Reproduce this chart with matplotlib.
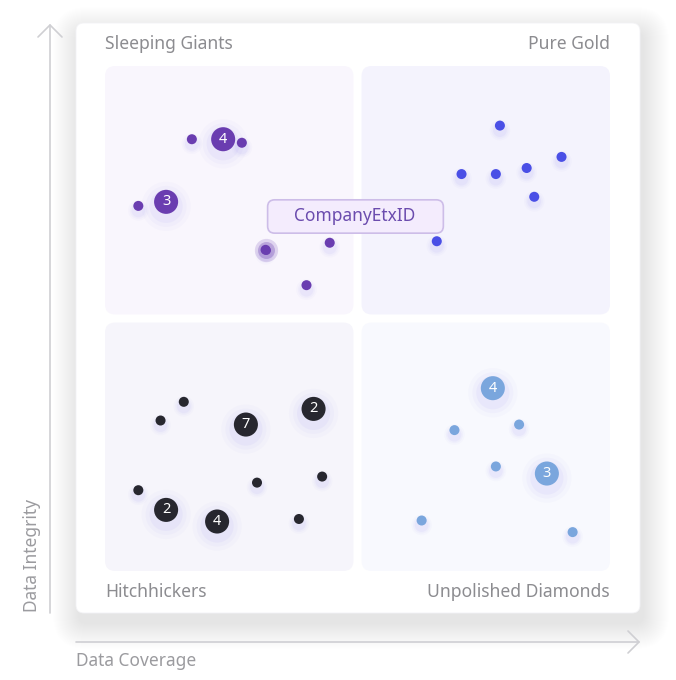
import numpy as np
import matplotlib
matplotlib.use("Agg")
import matplotlib.pyplot as plt
from matplotlib.patches import FancyBboxPatch

plt.rcParams['font.family'] = ['Noto Sans', 'DejaVu Sans']

# quadrant names
quad_names = ["Sleeping Giants", "Pure Gold", "Hitchhickers", "Unpolished Diamonds"]
x_label = "Data Coverage"
y_label = "Data Integrity"

# points, coverage (x) / integrity (y) on 0..100, n = companies in the bubble
sg_x = [17.2, 23.4, 27.1, 12.1, 6.6, 31.8, 44.5, 39.9]
sg_y = [85.5, 85.5, 84.8, 73.1, 72.3, 63.6, 65.0, 56.6]
sg_n = [1, 4, 1, 3, 1, 1, 1, 1]

pg_x = [78.2, 90.4, 70.6, 77.4, 83.5, 85.0, 65.7]
pg_y = [88.2, 82.0, 78.6, 78.6, 79.8, 74.1, 65.3]
pg_n = [1, 1, 1, 1, 1, 1, 1]

hh_x = [15.6, 11.0, 27.9, 41.3, 30.1, 43.0, 6.6, 12.1, 22.2, 38.4]
hh_y = [33.5, 29.8, 29.0, 32.1, 17.5, 18.7, 16.0, 12.1, 9.8, 10.3]
hh_n = [1, 1, 7, 2, 1, 1, 1, 2, 4, 1]

ud_x = [76.8, 69.2, 82.0, 77.4, 87.5, 62.7, 92.6]
ud_y = [36.2, 27.9, 29.0, 20.7, 19.3, 10.0, 7.7]
ud_n = [4, 1, 1, 1, 3, 1, 1]

highlight = "CompanyEtxID"
hl_x, hl_y = 31.8, 63.6

fig = plt.figure(figsize=(6.76, 6.80), dpi=100)

# background layer in pixel coords
bg = fig.add_axes([0, 0, 1, 1])
bg.set_xlim(0, 676)
bg.set_ylim(680, 0)
bg.axis('off')

# card shadow + card
for i in range(26):
    p = 1 + i * 1.0
    sh = FancyBboxPatch((76 - p + 3, 23 - p + 10), 564 + 2 * p, 590 + 2 * p,
                        boxstyle="round,pad=0,rounding_size=%g" % (8 + p),
                        fc='#55556a', ec='none', alpha=0.0032)
    bg.add_patch(sh)
card = FancyBboxPatch((76, 23), 564, 590, boxstyle="round,pad=0,rounding_size=8",
                      fc='white', ec='#f3f3f6', lw=0.6)
bg.add_patch(card)

# axis arrows
ac = '#cfcfd3'
bg.plot([50, 50], [613, 25], color=ac, lw=1.2, solid_capstyle='round')
bg.plot([38, 50, 62], [37, 25, 37], color=ac, lw=1.2, solid_capstyle='round')
bg.plot([76, 639], [642, 642], color=ac, lw=1.2, solid_capstyle='round')
bg.plot([628, 639, 628], [631, 642, 653], color=ac, lw=1.2, solid_capstyle='round')

bg.text(32, 612, y_label, rotation=90, ha='center', va='bottom', fontsize=12.5, color='#9b9b9f')
bg.text(76, 661, x_label, ha='left', va='center', fontsize=12.5, color='#9b9b9f')

lc = '#8c8c90'
bg.text(105, 44, quad_names[0], ha='left', va='center', fontsize=12.6, color=lc)
bg.text(610, 44, quad_names[1], ha='right', va='center', fontsize=12.6, color=lc)
bg.text(105, 592, quad_names[2], ha='left', va='center', fontsize=12.6, color=lc)
bg.text(610, 592, quad_names[3], ha='right', va='center', fontsize=12.6, color=lc)

# chart area
ax = fig.add_axes([105 / 676, (680 - 571) / 680, 505 / 676, 505 / 680])
ax.set_xlim(0, 100)
ax.set_ylim(0, 100)
ax.axis('off')
ax.patch.set_alpha(0)

panels = [((0, 50.8), '#f9f6fd'), ((50.8, 50.8), '#f4f3fd'),
          ((0, 0), '#f6f5fb'), ((50.8, 0), '#f8f9fe')]
for (px, py), c in panels:
    ax.add_patch(FancyBboxPatch((px, py), 49.2, 49.2, boxstyle="round,pad=0,rounding_size=2",
                                fc=c, ec='none', zorder=1))


def draw_group(xs, ys, ns, color):
    xs = np.array(xs)
    ys = np.array(ys)
    ns = np.array(ns)
    big = ns > 1
    sizes = np.where(big, 300, 52)
    # soft glow under the dots
    for k, a in [(4.2, 0.03), (2.9, 0.045), (1.9, 0.065)]:
        ax.scatter(xs, ys - 0.9, s=sizes * k, color='#8f80f2', alpha=a, lw=0, zorder=2)
    ax.scatter(xs, ys, s=sizes, color=color, lw=0, zorder=4)
    for x, y, n in zip(xs[big], ys[big], ns[big]):
        ax.text(x, y, str(n), ha='center', va='center', fontsize=10.5, color='white', zorder=5)


draw_group(sg_x, sg_y, sg_n, '#6a3db0')
draw_group(pg_x, pg_y, pg_n, '#4a4fe6')
draw_group(hh_x, hh_y, hh_n, '#27272f')
draw_group(ud_x, ud_y, ud_n, '#7aa6dd')

# highlighted company
ax.scatter([hl_x], [hl_y], s=280, color='#6a3db0', alpha=0.18, lw=0, zorder=6)
ax.scatter([hl_x], [hl_y], s=150, color='#6a3db0', alpha=0.3, lw=0, zorder=6)
ax.scatter([hl_x], [hl_y], s=40, color='#6a3db0', lw=0, zorder=7)

ax.add_patch(FancyBboxPatch((32.2, 66.9), 34.8, 6.6, boxstyle="round,pad=0,rounding_size=1.4",
                            fc='#f4ecfd', ec='#cdbde8', lw=1.2, zorder=8))
ax.text(49.4, 70.2, highlight, ha='center', va='center', fontsize=12.5, color='#6b4cae', zorder=9)

plt.savefig('out.png', dpi=100)
